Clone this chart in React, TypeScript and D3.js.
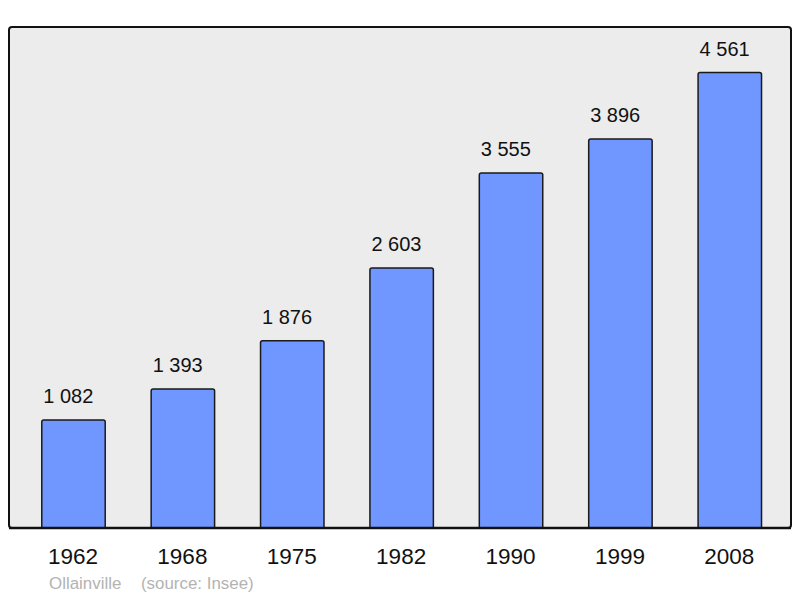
import React from "react";
import * as d3 from "d3";

const years = ["1962", "1968", "1975", "1982", "1990", "1999", "2008"];
const population = [1082, 1393, 1876, 2603, 3555, 3896, 4561];
const placeName = "Ollainville";
const sourceText = "(source: Insee)";

const W = 800;
const H = 598;
const panel = { x0: 9, y0: 27, x1: 791, y1: 528 };

export default function App() {
  const x = d3
    .scaleBand<string>()
    .domain(years)
    .range([18.8, 784.5])
    .paddingInner(0.42)
    .paddingOuter(0.21);
  const maxV = d3.max(population) as number;
  const y = d3.scaleLinear().domain([0, maxV * 1.1]).range([panel.y1, panel.y0]);
  const fmt = (v: number) => d3.format(",")(v).replace(/,/g, " ");
  const font = "'Liberation Sans', Arial, sans-serif";

  return (
    <svg
      width={W}
      height={H}
      style={{ position: "absolute", left: 0, top: 0 }}
      fontFamily={font}
    >
      <rect x={0} y={0} width={W} height={H} fill="#ffffff" />
      <rect
        x={panel.x0}
        y={panel.y0}
        width={panel.x1 - panel.x0}
        height={panel.y1 - panel.y0}
        rx={3}
        fill="#ececec"
        stroke="#111"
        strokeWidth={2}
      />
      {years.map((yr, i) => {
        const bx = x(yr) as number;
        const bw = x.bandwidth();
        const top = y(population[i]);
        return (
          <g key={yr}>
            <path
              d={`M${bx},${panel.y1} L${bx},${top + 2} Q${bx},${top} ${bx + 2},${top} L${bx + bw - 2},${top} Q${bx + bw},${top} ${bx + bw},${top + 2} L${bx + bw},${panel.y1}`}
              fill="#7097ff"
              stroke="#1a1a1a"
              strokeWidth={1.5}
            />
            <text
              x={bx + 1.5}
              y={top - 16.7}
              textAnchor="start"
              fontSize={20}
              fill="#111"
            >
              {fmt(population[i])}
            </text>
            <text
              x={bx + bw / 2 - 0.5}
              y={564}
              textAnchor="middle"
              fontSize={22.5}
              fill="#111"
            >
              {yr}
            </text>
          </g>
        );
      })}
      <line
        x1={panel.x0}
        x2={panel.x1}
        y1={panel.y1}
        y2={panel.y1}
        stroke="#111"
        strokeWidth={2.5}
      />
      <text x={49} y={589} fontSize={16.9} fill="#b3b3b3">
        {placeName}
      </text>
      <text x={141} y={589} fontSize={16.9} fill="#b3b3b3">
        {sourceText}
      </text>
    </svg>
  );
}
